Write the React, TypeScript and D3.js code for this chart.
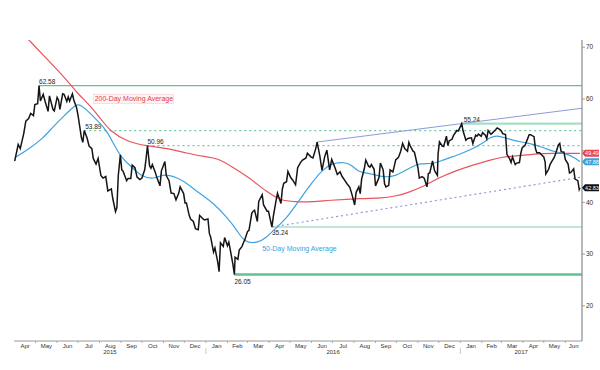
import * as d3 from "d3"
import React from "react"

// daily-ish price (date, value)
const price: [string, number][] = [
  ["2015-04-01", 48.0], ["2015-04-06", 51.2], ["2015-04-09", 50.4], ["2015-04-14", 53.3], ["2015-04-17", 55.7],
  ["2015-04-21", 56.2], ["2015-04-24", 57.2], ["2015-04-28", 56.8], ["2015-04-30", 58.9], ["2015-05-04", 59.1],
  ["2015-05-06", 62.58], ["2015-05-08", 59.6], ["2015-05-12", 60.9], ["2015-05-15", 59.4], ["2015-05-19", 57.6],
  ["2015-05-21", 60.6], ["2015-05-26", 58.0], ["2015-05-28", 57.7], ["2015-06-01", 60.3], ["2015-06-03", 59.8],
  ["2015-06-05", 58.0], ["2015-06-09", 61.0], ["2015-06-11", 60.9], ["2015-06-15", 59.5], ["2015-06-17", 60.4],
  ["2015-06-19", 59.6], ["2015-06-23", 61.0], ["2015-06-25", 59.8], ["2015-06-29", 58.3], ["2015-07-01", 56.9],
  ["2015-07-06", 52.5], ["2015-07-08", 51.6], ["2015-07-10", 53.89], ["2015-07-14", 52.5], ["2015-07-17", 50.9],
  ["2015-07-21", 50.4], ["2015-07-23", 48.5], ["2015-07-27", 47.4], ["2015-07-30", 48.5], ["2015-08-03", 45.2],
  ["2015-08-06", 44.7], ["2015-08-10", 45.0], ["2015-08-13", 42.2], ["2015-08-18", 42.6], ["2015-08-20", 40.8],
  ["2015-08-24", 38.2], ["2015-08-26", 39.0], ["2015-08-28", 45.2], ["2015-08-31", 49.2], ["2015-09-02", 46.3],
  ["2015-09-04", 46.0], ["2015-09-09", 44.2], ["2015-09-11", 44.6], ["2015-09-15", 44.6], ["2015-09-17", 47.2],
  ["2015-09-21", 46.7], ["2015-09-24", 44.9], ["2015-09-28", 44.4], ["2015-10-01", 44.7], ["2015-10-05", 46.3],
  ["2015-10-07", 48.5], ["2015-10-09", 50.96], ["2015-10-12", 47.1], ["2015-10-14", 46.6], ["2015-10-16", 47.3],
  ["2015-10-20", 45.9], ["2015-10-23", 44.6], ["2015-10-27", 43.2], ["2015-10-29", 46.1], ["2015-11-03", 47.9],
  ["2015-11-05", 45.2], ["2015-11-09", 44.2], ["2015-11-12", 41.8], ["2015-11-16", 41.7], ["2015-11-19", 40.5],
  ["2015-11-23", 41.8], ["2015-11-25", 43.0], ["2015-11-30", 41.7], ["2015-12-02", 39.9], ["2015-12-04", 39.9],
  ["2015-12-08", 37.5], ["2015-12-10", 36.8], ["2015-12-14", 36.3], ["2015-12-17", 34.9], ["2015-12-21", 34.7],
  ["2015-12-23", 37.5], ["2015-12-28", 36.8], ["2015-12-30", 36.6], ["2016-01-04", 36.8], ["2016-01-06", 34.0],
  ["2016-01-08", 33.2], ["2016-01-12", 30.4], ["2016-01-14", 31.2], ["2016-01-18", 28.5], ["2016-01-20", 26.6],
  ["2016-01-22", 32.2], ["2016-01-26", 31.5], ["2016-01-28", 33.2], ["2016-02-01", 31.6], ["2016-02-03", 32.3],
  ["2016-02-05", 30.9], ["2016-02-09", 27.9], ["2016-02-11", 26.05], ["2016-02-12", 29.4], ["2016-02-16", 29.0],
  ["2016-02-18", 30.8], ["2016-02-22", 31.5], ["2016-02-24", 32.2], ["2016-02-26", 32.8], ["2016-03-01", 34.4],
  ["2016-03-03", 34.6], ["2016-03-07", 37.9], ["2016-03-09", 38.3], ["2016-03-11", 38.5], ["2016-03-15", 36.3],
  ["2016-03-17", 40.2], ["2016-03-22", 41.5], ["2016-03-24", 39.5], ["2016-03-29", 38.3], ["2016-03-31", 38.3],
  ["2016-04-05", 35.24], ["2016-04-07", 37.3], ["2016-04-11", 40.4], ["2016-04-13", 41.8], ["2016-04-18", 39.8],
  ["2016-04-20", 42.6], ["2016-04-22", 43.7], ["2016-04-26", 44.0], ["2016-04-28", 46.0], ["2016-05-02", 44.8],
  ["2016-05-05", 44.3], ["2016-05-09", 43.4], ["2016-05-12", 46.7], ["2016-05-16", 47.7], ["2016-05-19", 48.2],
  ["2016-05-24", 48.6], ["2016-05-26", 49.5], ["2016-05-31", 48.8], ["2016-06-03", 48.6], ["2016-06-07", 50.4],
  ["2016-06-09", 51.67], ["2016-06-13", 48.9], ["2016-06-16", 46.2], ["2016-06-20", 48.9], ["2016-06-23", 50.1],
  ["2016-06-27", 46.3], ["2016-06-30", 48.3], ["2016-07-05", 46.6], ["2016-07-08", 45.4], ["2016-07-12", 45.9],
  ["2016-07-15", 45.0], ["2016-07-19", 44.2], ["2016-07-22", 43.6], ["2016-07-26", 42.9], ["2016-07-29", 41.6],
  ["2016-08-02", 39.5], ["2016-08-04", 41.9], ["2016-08-08", 43.0], ["2016-08-10", 41.7], ["2016-08-12", 44.5],
  ["2016-08-16", 46.6], ["2016-08-18", 48.2], ["2016-08-22", 47.0], ["2016-08-24", 46.8], ["2016-08-26", 47.3],
  ["2016-08-30", 46.4], ["2016-09-01", 43.2], ["2016-09-06", 44.8], ["2016-09-08", 47.6], ["2016-09-12", 46.3],
  ["2016-09-14", 43.6], ["2016-09-16", 43.0], ["2016-09-20", 43.3], ["2016-09-22", 46.3], ["2016-09-26", 45.9],
  ["2016-09-28", 47.0], ["2016-09-30", 48.2], ["2016-10-04", 48.7], ["2016-10-07", 49.8], ["2016-10-10", 51.4],
  ["2016-10-13", 50.4], ["2016-10-17", 49.9], ["2016-10-19", 51.6], ["2016-10-21", 50.9], ["2016-10-25", 49.9],
  ["2016-10-27", 49.7], ["2016-11-01", 46.7], ["2016-11-03", 44.7], ["2016-11-07", 45.0], ["2016-11-10", 44.7],
  ["2016-11-14", 43.0], ["2016-11-16", 45.6], ["2016-11-18", 45.7], ["2016-11-22", 48.0], ["2016-11-25", 46.1],
  ["2016-11-29", 45.2], ["2016-11-30", 49.4], ["2016-12-02", 51.7], ["2016-12-06", 50.9], ["2016-12-08", 50.8],
  ["2016-12-12", 52.8], ["2016-12-14", 51.0], ["2016-12-16", 51.9], ["2016-12-20", 52.2], ["2016-12-22", 52.9],
  ["2016-12-27", 53.9], ["2016-12-29", 53.8], ["2017-01-03", 55.24], ["2017-01-05", 53.8], ["2017-01-09", 52.0],
  ["2017-01-11", 52.3], ["2017-01-13", 52.4], ["2017-01-17", 52.5], ["2017-01-19", 51.4], ["2017-01-23", 53.0],
  ["2017-01-25", 52.8], ["2017-01-27", 53.2], ["2017-01-31", 52.8], ["2017-02-02", 53.5], ["2017-02-06", 53.0],
  ["2017-02-08", 52.3], ["2017-02-10", 53.9], ["2017-02-14", 53.2], ["2017-02-16", 53.4], ["2017-02-21", 54.1],
  ["2017-02-23", 54.4], ["2017-02-27", 54.1], ["2017-03-01", 53.8], ["2017-03-03", 53.3], ["2017-03-07", 53.1],
  ["2017-03-09", 49.3], ["2017-03-13", 48.4], ["2017-03-15", 47.7], ["2017-03-17", 48.8], ["2017-03-21", 47.3],
  ["2017-03-23", 47.6], ["2017-03-27", 47.7], ["2017-03-29", 49.5], ["2017-03-31", 50.6], ["2017-04-04", 51.0],
  ["2017-04-06", 51.7], ["2017-04-10", 53.1], ["2017-04-12", 53.1], ["2017-04-17", 52.7], ["2017-04-19", 50.4],
  ["2017-04-21", 49.6], ["2017-04-25", 49.6], ["2017-04-27", 49.3], ["2017-05-01", 48.8], ["2017-05-03", 47.8],
  ["2017-05-04", 45.5], ["2017-05-08", 46.4], ["2017-05-10", 47.3], ["2017-05-12", 47.8], ["2017-05-16", 48.7],
  ["2017-05-18", 49.4], ["2017-05-22", 51.1], ["2017-05-24", 51.4], ["2017-05-26", 49.8], ["2017-05-30", 49.7],
  ["2017-06-01", 48.3], ["2017-06-05", 47.4], ["2017-06-07", 45.7], ["2017-06-09", 45.8], ["2017-06-13", 46.5],
  ["2017-06-15", 44.5], ["2017-06-19", 44.2], ["2017-06-21", 42.5], ["2017-06-22", 42.83],
]

const ma50: [string, number][] = [
  ["2015-04-03", 48.8], ["2015-04-19", 50.1], ["2015-05-12", 52.4], ["2015-05-26", 54.6], ["2015-06-09", 56.5],
  ["2015-06-24", 58.4], ["2015-07-01", 59.2], ["2015-07-14", 57.9], ["2015-07-28", 55.9], ["2015-08-12", 54.0],
  ["2015-08-30", 48.8], ["2015-09-17", 46.8], ["2015-10-01", 44.9], ["2015-10-20", 44.5], ["2015-11-03", 45.7],
  ["2015-11-29", 44.3], ["2015-12-16", 42.4], ["2015-12-31", 41.0], ["2016-01-11", 39.9], ["2016-01-31", 37.2],
  ["2016-02-15", 34.6], ["2016-02-25", 32.3], ["2016-03-15", 32.1], ["2016-03-29", 33.3], ["2016-04-07", 34.6],
  ["2016-04-27", 37.0], ["2016-05-15", 40.6], ["2016-06-02", 43.9], ["2016-06-16", 46.2], ["2016-06-30", 47.6],
  ["2016-07-19", 47.8], ["2016-07-29", 47.2], ["2016-08-07", 45.9], ["2016-08-21", 45.7], ["2016-09-10", 44.9],
  ["2016-09-29", 44.9], ["2016-10-21", 46.8], ["2016-11-04", 47.6], ["2016-11-23", 47.4], ["2016-12-07", 48.2],
  ["2016-12-27", 49.1], ["2017-01-15", 50.1], ["2017-02-03", 51.5], ["2017-02-13", 52.6], ["2017-02-24", 53.0],
  ["2017-03-16", 52.0], ["2017-04-08", 51.5], ["2017-04-29", 50.7], ["2017-05-17", 49.7], ["2017-06-01", 49.5],
  ["2017-06-15", 48.6], ["2017-06-22", 47.88],
]

const ma200: [string, number][] = [
  ["2015-04-20", 71.6], ["2015-05-19", 67.5], ["2015-06-15", 63.7], ["2015-06-30", 61.1], ["2015-07-18", 58.8],
  ["2015-08-02", 56.3], ["2015-08-16", 53.8], ["2015-09-10", 51.7], ["2015-10-08", 50.9], ["2015-11-06", 50.5],
  ["2015-12-05", 49.5], ["2015-12-31", 48.8], ["2016-01-17", 48.6], ["2016-02-09", 46.8], ["2016-03-04", 44.7],
  ["2016-03-29", 42.0], ["2016-04-17", 40.4], ["2016-05-08", 40.1], ["2016-06-02", 40.1], ["2016-06-25", 40.4],
  ["2016-08-13", 40.8], ["2016-09-10", 40.8], ["2016-09-29", 41.2], ["2016-10-16", 41.8], ["2016-11-08", 43.0],
  ["2016-12-03", 44.9], ["2016-12-27", 46.2], ["2017-01-19", 47.2], ["2017-02-13", 48.2], ["2017-03-02", 48.8],
  ["2017-03-25", 49.0], ["2017-04-18", 49.4], ["2017-05-13", 49.5], ["2017-06-22", 49.49],
]

// support / resistance levels: value, date they start from
const levelValues = [62.58, 53.89, 50.96, 55.24, 35.24, 26.05]
const levelStarts = ["2015-05-06", "2015-07-10", "2015-10-09", "2017-01-03", "2016-04-05", "2016-02-11"]

// trend lines: two anchor points each, extended to the right edge
const upperTrend: [string, number][] = [["2016-06-09", 51.67], ["2017-01-03", 55.24]]
const lowerTrend: [string, number][] = [["2016-04-05", 35.24], ["2017-06-25", 44.9]]

const yTicks = [20, 30, 40, 50, 60, 70]

const parse = d3.timeParse("%Y-%m-%d")
const FONT = "'Liberation Sans', Arial, sans-serif"

const App = () => {
  const x = d3.scaleTime().domain([parse("2015-03-31")!, parse("2017-06-25")!]).range([14, 582])
  const y = d3.scaleLinear().domain([13.2, 71.4]).range([341, 40])
  const [x0, x1] = x.range()
  const [y0, y1] = y.range()

  const line = d3.line<[string, number]>()
    .x(d => x(parse(d[0])!))
    .y(d => y(d[1]))
  const smooth = d3.line<[string, number]>()
    .x(d => x(parse(d[0])!))
    .y(d => y(d[1]))
    .curve(d3.curveBasis)

  const extend = (pts: [string, number][]) => {
    const a = parse(pts[0][0])!, b = parse(pts[1][0])!
    const slope = (pts[1][1] - pts[0][1]) / (+b - +a)
    const end = x.domain()[1]
    return { x1: x(a), y1: y(pts[0][1]), x2: x(end), y2: y(pts[0][1] + slope * (+end - +a)) }
  }
  const up = extend(upperTrend)
  const lo = extend(lowerTrend)

  const months = d3.timeMonth.range(parse("2015-04-01")!, parse("2017-07-01")!)
  const domEnd = x.domain()[1]
  const years = [2015, 2016, 2017].map(yr => {
    const s = d3.max([new Date(yr, 0, 1), x.domain()[0]])!
    const e = d3.min([new Date(yr + 1, 0, 1), domEnd])!
    return { yr, cx: (x(s) + x(e)) / 2 }
  })

  const levelStyle = [
    { stroke: "#5cc391", w: 1.4, dash: "" },
    { stroke: "#6ccaa0", w: 1.3, dash: "2,3" },
    { stroke: "#6ccaa0", w: 1.3, dash: "2,3" },
    { stroke: "#a6e0c4", w: 2.4, dash: "" },
    { stroke: "#7fd1aa", w: 1.2, dash: "" },
    { stroke: "#5cc391", w: 2.6, dash: "" },
  ]
  // label offsets relative to the level start: [dx, dy]
  const levelLabelOffset = [[0, -2], [1, -2], [0, -2], [2, -2], [0, 8], [0, 9]]

  const lastVals = [
    { v: ma200[ma200.length - 1][1], fill: "#e8464f" },
    { v: ma50[ma50.length - 1][1], fill: "#3a9fdc" },
    { v: price[price.length - 1][1], fill: "#111111" },
  ]
  // tick labels hidden under the value tags
  const hidden = (t: number) => lastVals.some(d => Math.abs(y(d.v) - y(t)) < 6)

  return (
    <svg width={600} height={370} style={{ position: "absolute", left: 0, top: 0, background: "#fff" }}
      fontFamily={FONT}>
      <defs>
        <clipPath id="plot">
          <rect x={x0} y={y1} width={x1 - x0} height={y0 - y1} />
        </clipPath>
      </defs>

      {/* levels */}
      {levelValues.map((v, i) => {
        const st = levelStyle[i]
        const sx = x(parse(levelStarts[i])!)
        return (
          <g key={"lv" + i}>
            <line x1={sx} x2={x1} y1={y(v)} y2={y(v)} stroke={st.stroke} strokeWidth={st.w}
              strokeDasharray={st.dash || undefined} />
            <text x={sx + levelLabelOffset[i][0]} y={y(v) + levelLabelOffset[i][1]} fontSize={6.5}
              fill="#222">{v.toFixed(2)}</text>
          </g>
        )
      })}

      {/* trend lines */}
      <line {...up} stroke="#8d9ad6" strokeWidth={1} />
      <line {...lo} stroke="#8d9ad6" strokeWidth={1.2} strokeDasharray="2,3" />

      <g clipPath="url(#plot)" fill="none">
        <path d={smooth(ma200)!} stroke="#e9545c" strokeWidth={1.2} />
        <path d={smooth(ma50)!} stroke="#3ea3e0" strokeWidth={1.2} />
        <path d={line(price)!} stroke="#151515" strokeWidth={1.5} strokeLinejoin="miter" />
      </g>

      {/* MA labels */}
      <g>
        <rect x={x(parse("2015-07-25")!) - 1} y={y(59.6) - 6.5} width={80} height={9}
          fill="#fff3f4" stroke="#f5c6ca" strokeWidth={0.5} />
        <text x={x(parse("2015-07-25")!)} y={y(59.6)} fontSize={7} fill="#e43c47">200-Day Moving Average</text>
        <text x={x(parse("2016-03-22")!)} y={y(30.6)} fontSize={7} fill="#3a9fdc">50-Day Moving Average</text>
      </g>

      {/* right axis */}
      <line x1={x1} x2={x1} y1={y1} y2={y0} stroke="#8a8a8a" strokeWidth={1.2} />
      {yTicks.map(t => (
        <g key={t}>
          <line x1={x1} x2={x1 + 3} y1={y(t)} y2={y(t)} stroke="#8a8a8a" strokeWidth={0.8} />
          {!hidden(t) && <text x={x1 + 4} y={y(t) + 2.2} fontSize={6.5} fill="#333">{t}</text>}
        </g>
      ))}

      {/* last value tags */}
      {lastVals.map((d, i) => {
        const cy = y(d.v)
        return (
          <g key={"tag" + i}>
            <path d={`M${x1},${cy} L${x1 + 3},${cy - 3.5} L${x1 + 17},${cy - 3.5} L${x1 + 17},${cy + 3.5} L${x1 + 3},${cy + 3.5} Z`}
              fill={d.fill} />
            <text x={x1 + 10} y={cy + 2} fontSize={5.5} fill="#fff" textAnchor="middle">{d.v.toFixed(2)}</text>
          </g>
        )
      })}

      {/* bottom axis */}
      <line x1={x0} x2={x1} y1={y0} y2={y0} stroke="#999" strokeWidth={1} />
      {months.map((m, i) => {
        const next = d3.timeMonth.offset(m, 1)
        const cx = (x(m) + x(+next > +domEnd ? domEnd : next)) / 2
        return (
          <g key={"m" + i}>
            {i > 0 && <line x1={x(m)} x2={x(m)} y1={y0} y2={y0 + 2} stroke="#999" strokeWidth={0.8} />}
            <text x={cx} y={y0 + 6.5} fontSize={6} fill="#333" textAnchor="middle">{d3.timeFormat("%b")(m)}</text>
          </g>
        )
      })}
      {years.map(d => (
        <text key={d.yr} x={d.cx} y={y0 + 13} fontSize={6} fill="#333" textAnchor="middle">{d.yr}</text>
      ))}
      {[2016, 2017].map(yr => (
        <line key={"ys" + yr} x1={x(new Date(yr, 0, 1))} x2={x(new Date(yr, 0, 1))} y1={y0 + 7} y2={y0 + 13}
          stroke="#bbb" strokeWidth={0.8} />
      ))}
    </svg>
  )
}

export default App
